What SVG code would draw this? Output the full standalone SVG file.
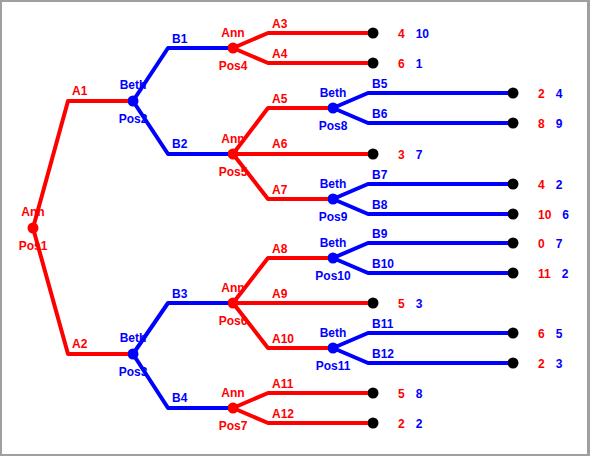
<svg xmlns="http://www.w3.org/2000/svg" width="590" height="456" viewBox="0 0 590 456">
<style>
text{font-family:"Liberation Sans",Arial,sans-serif;font-weight:bold;font-size:12px}
.r{fill:#ff0000}.b{fill:#0000ff}
.c{text-anchor:middle}
.er{fill:none;stroke:#ff0000;stroke-width:4;stroke-linejoin:round}
.eb{fill:none;stroke:#0000ff;stroke-width:4;stroke-linejoin:round}
.t{fill:#000}
</style>
<rect x="0" y="0" width="590" height="456" fill="#a0a0a0"/>
<rect x="2" y="2" width="585" height="452" fill="#ffffff"/>

<!-- decision nodes -->
<g id="pos1"><circle cx="33" cy="228" r="5.5" class="r"/><text x="33" y="216" class="r c">Ann</text><text x="33" y="250" class="r c">Pos1</text></g>
<g id="pos2"><circle cx="133" cy="101" r="5.5" class="b"/><text x="133" y="89" class="b c">Beth</text><text x="133" y="123" class="b c">Pos2</text></g>
<g id="pos3"><circle cx="133" cy="354" r="5.5" class="b"/><text x="133" y="342" class="b c">Beth</text><text x="133" y="376" class="b c">Pos3</text></g>
<g id="pos4"><circle cx="233" cy="48" r="5.5" class="r"/><text x="233" y="37" class="r c">Ann</text><text x="233" y="70" class="r c">Pos4</text></g>
<g id="pos5"><circle cx="233" cy="154" r="5.5" class="r"/><text x="233" y="143" class="r c">Ann</text><text x="233" y="176" class="r c">Pos5</text></g>
<g id="pos6"><circle cx="233" cy="303" r="5.5" class="r"/><text x="233" y="292" class="r c">Ann</text><text x="233" y="325" class="r c">Pos6</text></g>
<g id="pos7"><circle cx="233" cy="408" r="5.5" class="r"/><text x="233" y="397" class="r c">Ann</text><text x="233" y="430" class="r c">Pos7</text></g>
<g id="pos8"><circle cx="333" cy="108" r="5.5" class="b"/><text x="333" y="97" class="b c">Beth</text><text x="333" y="130" class="b c">Pos8</text></g>
<g id="pos9"><circle cx="333" cy="199" r="5.5" class="b"/><text x="333" y="188" class="b c">Beth</text><text x="333" y="221" class="b c">Pos9</text></g>
<g id="pos10"><circle cx="333" cy="258" r="5.5" class="b"/><text x="333" y="247" class="b c">Beth</text><text x="333" y="280" class="b c">Pos10</text></g>
<g id="pos11"><circle cx="333" cy="348" r="5.5" class="b"/><text x="333" y="337" class="b c">Beth</text><text x="333" y="370" class="b c">Pos11</text></g>

<!-- terminal nodes -->
<g id="t1"><circle cx="373" cy="33" r="5.5" class="t"/><text x="398" y="38"><tspan class="r">4</tspan><tspan class="b" dx="11">10</tspan></text></g>
<g id="t2"><circle cx="373" cy="63" r="5.5" class="t"/><text x="398" y="68"><tspan class="r">6</tspan><tspan class="b" dx="11">1</tspan></text></g>
<g id="t3"><circle cx="513" cy="93" r="5.5" class="t"/><text x="538" y="98"><tspan class="r">2</tspan><tspan class="b" dx="11">4</tspan></text></g>
<g id="t4"><circle cx="513" cy="123" r="5.5" class="t"/><text x="538" y="128"><tspan class="r">8</tspan><tspan class="b" dx="11">9</tspan></text></g>
<g id="t5"><circle cx="373" cy="154" r="5.5" class="t"/><text x="398" y="159"><tspan class="r">3</tspan><tspan class="b" dx="11">7</tspan></text></g>
<g id="t6"><circle cx="513" cy="184" r="5.5" class="t"/><text x="538" y="189"><tspan class="r">4</tspan><tspan class="b" dx="11">2</tspan></text></g>
<g id="t7"><circle cx="513" cy="214" r="5.5" class="t"/><text x="538" y="219"><tspan class="r">10</tspan><tspan class="b" dx="11">6</tspan></text></g>
<g id="t8"><circle cx="513" cy="243" r="5.5" class="t"/><text x="538" y="248"><tspan class="r">0</tspan><tspan class="b" dx="11">7</tspan></text></g>
<g id="t9"><circle cx="513" cy="273" r="5.5" class="t"/><text x="538" y="278"><tspan class="r">11</tspan><tspan class="b" dx="11">2</tspan></text></g>
<g id="t10"><circle cx="373" cy="303" r="5.5" class="t"/><text x="398" y="308"><tspan class="r">5</tspan><tspan class="b" dx="11">3</tspan></text></g>
<g id="t11"><circle cx="513" cy="333" r="5.5" class="t"/><text x="538" y="338"><tspan class="r">6</tspan><tspan class="b" dx="11">5</tspan></text></g>
<g id="t12"><circle cx="513" cy="363" r="5.5" class="t"/><text x="538" y="368"><tspan class="r">2</tspan><tspan class="b" dx="11">3</tspan></text></g>
<g id="t13"><circle cx="373" cy="393" r="5.5" class="t"/><text x="398" y="398"><tspan class="r">5</tspan><tspan class="b" dx="11">8</tspan></text></g>
<g id="t14"><circle cx="373" cy="423" r="5.5" class="t"/><text x="398" y="428"><tspan class="r">2</tspan><tspan class="b" dx="11">2</tspan></text></g>

<g id="connectors">
<path class="er" d="M33 228 L68 101 H128"/>
<path class="er" d="M33 228 L68 354 H128"/>
<path class="eb" d="M133 101 L168 48 H228"/>
<path class="eb" d="M133 101 L168 154 H228"/>
<path class="eb" d="M133 354 L168 303 H228"/>
<path class="eb" d="M133 354 L168 408 H228"/>
<path class="er" d="M233 48 L268 33 H368"/>
<path class="er" d="M233 48 L268 63 H368"/>
<path class="er" d="M233 154 L268 108 H328"/>
<path class="er" d="M233 154 H368"/>
<path class="er" d="M233 154 L268 199 H328"/>
<path class="er" d="M233 303 L268 258 H328"/>
<path class="er" d="M233 303 H368"/>
<path class="er" d="M233 303 L268 348 H328"/>
<path class="er" d="M233 408 L268 393 H368"/>
<path class="er" d="M233 408 L268 423 H368"/>
<path class="eb" d="M333 108 L368 93 H508"/>
<path class="eb" d="M333 108 L368 123 H508"/>
<path class="eb" d="M333 199 L368 184 H508"/>
<path class="eb" d="M333 199 L368 214 H508"/>
<path class="eb" d="M333 258 L368 243 H508"/>
<path class="eb" d="M333 258 L368 273 H508"/>
<path class="eb" d="M333 348 L368 333 H508"/>
<path class="eb" d="M333 348 L368 363 H508"/>
<text x="72" y="95" class="r">A1</text>
<text x="72" y="348" class="r">A2</text>
<text x="172" y="43" class="b">B1</text>
<text x="172" y="148" class="b">B2</text>
<text x="172" y="298" class="b">B3</text>
<text x="172" y="402" class="b">B4</text>
<text x="272" y="28" class="r">A3</text>
<text x="272" y="58" class="r">A4</text>
<text x="272" y="103" class="r">A5</text>
<text x="272" y="148" class="r">A6</text>
<text x="272" y="194" class="r">A7</text>
<text x="272" y="253" class="r">A8</text>
<text x="272" y="298" class="r">A9</text>
<text x="272" y="343" class="r">A10</text>
<text x="272" y="388" class="r">A11</text>
<text x="272" y="418" class="r">A12</text>
<text x="372" y="88" class="b">B5</text>
<text x="372" y="118" class="b">B6</text>
<text x="372" y="179" class="b">B7</text>
<text x="372" y="209" class="b">B8</text>
<text x="372" y="238" class="b">B9</text>
<text x="372" y="268" class="b">B10</text>
<text x="372" y="328" class="b">B11</text>
<text x="372" y="358" class="b">B12</text>
</g>
</svg>
